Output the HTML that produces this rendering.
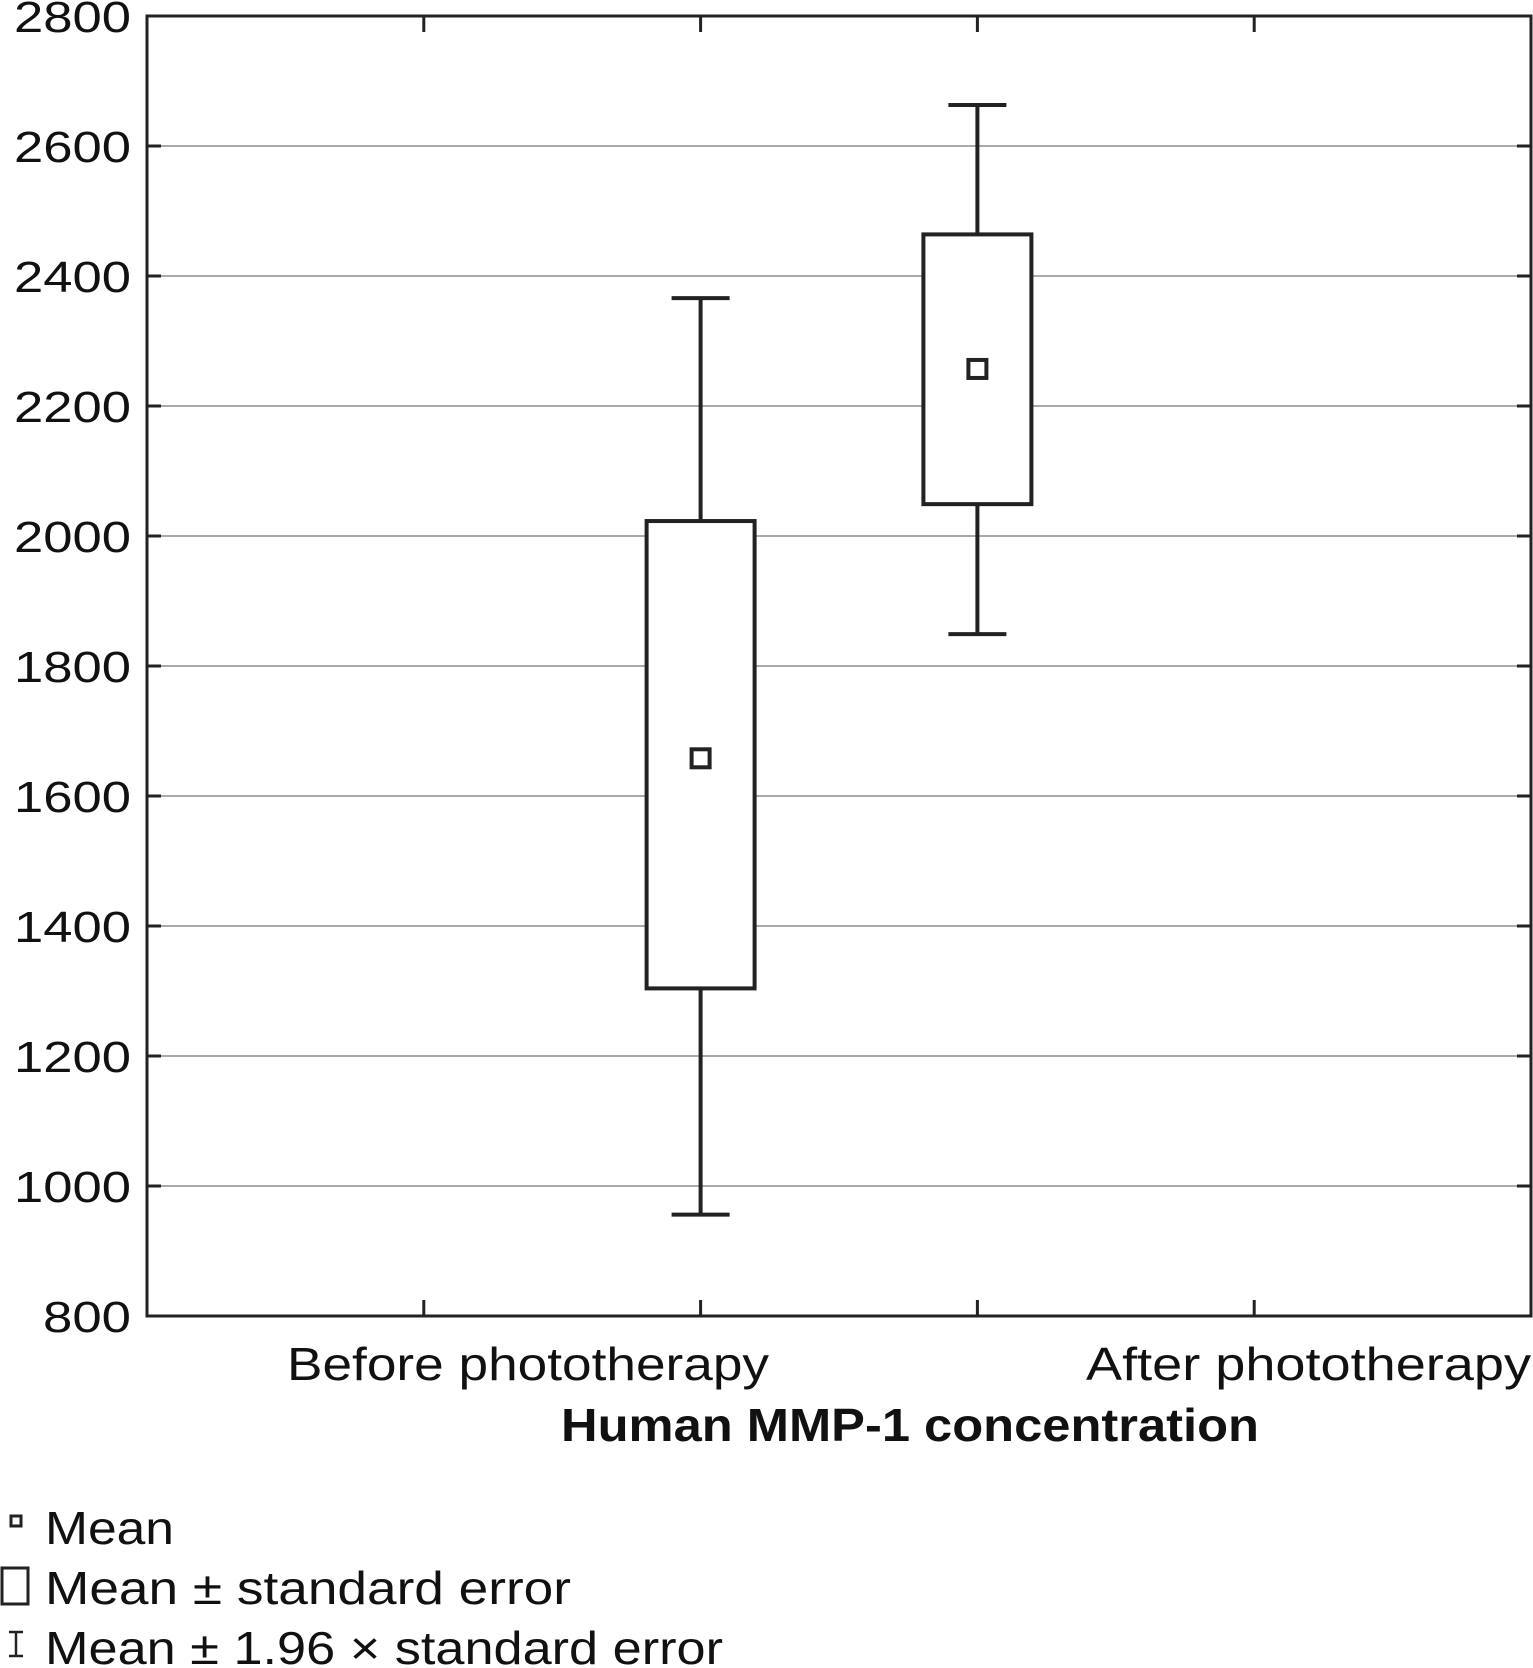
<!DOCTYPE html>
<html><head><meta charset="utf-8"><style>
body{margin:0;background:#fff;}
svg{display:block;font-family:"Liberation Sans",sans-serif;}
</style></head><body>
<svg id="chart" width="1533" height="1668"></svg>
<script>
const categories=["Before phototherapy","After phototherapy"];
const whiskerLow=[956,1849];
const boxLow=[1304,2049];
const means=[1658,2257];
const boxHigh=[2023,2464];
const whiskerHigh=[2366,2663];
const yTicks=[800,1000,1200,1400,1600,1800,2000,2200,2400,2600,2800];
const NS="http://www.w3.org/2000/svg";
const svg=document.getElementById('chart');
const L=147,R=1531,T=16,B=1316;
const y=v=>B-(v-800)/2000*(B-T);
const xCat=i=>L+(R-L)*(2+i)/5;
function mk(tag,attrs,parent){const e=document.createElementNS(NS,tag);for(const k in attrs)e.setAttribute(k,attrs[k]);(parent||svg).appendChild(e);return e;}
yTicks.forEach(t=>{
  if(t>800&&t<2800){const g=mk('line',{x1:L,x2:R,y1:y(t),y2:y(t),stroke:'#aaa','stroke-width':2});
  
  }
  const tk=mk('line',{x1:L,x2:L+14,y1:y(t),y2:y(t),stroke:'#222','stroke-width':3});
  
  
  mk('line',{x1:R-14,x2:R,y1:y(t),y2:y(t),stroke:'#222','stroke-width':3});
  const s=String(t);
  const w=s.length===4?117:88;
  const tx=mk('text',{x:131-w,y:y(t)+16,'font-size':44,fill:'#111',textLength:w,lengthAdjust:'spacingAndGlyphs'});
  tx.textContent=s;
  
  
});
for(let k=1;k<5;k++){const xx=L+(R-L)*k/5;
  mk('line',{x1:xx,x2:xx,y1:B,y2:B-16,stroke:'#222','stroke-width':3});
  mk('line',{x1:xx,x2:xx,y1:T,y2:T+16,stroke:'#222','stroke-width':3});}
const fr=mk('rect',{x:L,y:T,width:R-L,height:B-T,fill:'none',stroke:'#222','stroke-width':3});


categories.forEach((c,i)=>{
  const cx=xCat(i);
  const g=mk('g',{});
  
  
  const st={stroke:'#222','stroke-width':4,fill:'none'};
  mk('line',Object.assign({x1:cx,x2:cx,y1:y(whiskerHigh[i]),y2:y(boxHigh[i])},st),g);
  mk('line',Object.assign({x1:cx,x2:cx,y1:y(boxLow[i]),y2:y(whiskerLow[i])},st),g);
  mk('line',Object.assign({x1:cx-29,x2:cx+29,y1:y(whiskerHigh[i]),y2:y(whiskerHigh[i])},st),g);
  mk('line',Object.assign({x1:cx-29,x2:cx+29,y1:y(whiskerLow[i]),y2:y(whiskerLow[i])},st),g);
  mk('rect',{x:cx-54,y:y(boxHigh[i]),width:108,height:y(boxLow[i])-y(boxHigh[i]),fill:'#fff',stroke:'#222','stroke-width':4},g);
  const m=mk('rect',{x:cx-9,y:y(means[i])-9,width:18,height:18,fill:'#fff',stroke:'#222','stroke-width':4},g);
  
  
});
const lx=[287,1086],lw=[482,445];
categories.forEach((c,i)=>{const t=mk('text',{x:lx[i],y:1380,'font-size':46,fill:'#111',textLength:lw[i],lengthAdjust:'spacingAndGlyphs'});t.textContent=c;
  
  });
const ti=mk('text',{x:561,y:1441,'font-size':46,'font-weight':'bold',fill:'#111',textLength:698,lengthAdjust:'spacingAndGlyphs'});
ti.textContent='Human MMP-1 concentration';


// legend
const lg=mk('g',{});


mk('rect',{x:11,y:1516,width:10,height:10,fill:'none',stroke:'#222','stroke-width':3},lg);
mk('rect',{x:2,y:1568,width:26,height:36,fill:'none',stroke:'#222','stroke-width':3},lg);
mk('line',{x1:9,x2:23,y1:1632,y2:1632,stroke:'#222','stroke-width':2.5},lg);
mk('line',{x1:9,x2:23,y1:1656,y2:1656,stroke:'#222','stroke-width':2.5},lg);
mk('line',{x1:16,x2:16,y1:1632,y2:1656,stroke:'#222','stroke-width':2.5},lg);
const legTexts=["Mean","Mean ± standard error","Mean ± 1.96 × standard error"];
const legW=[129,526,678],legY=[1544,1604,1664];
legTexts.forEach((s,i)=>{const t=mk('text',{x:45,y:legY[i],'font-size':46,fill:'#111',textLength:legW[i],lengthAdjust:'spacingAndGlyphs'},lg);t.textContent=s;
  
  });
</script>
</body></html>
